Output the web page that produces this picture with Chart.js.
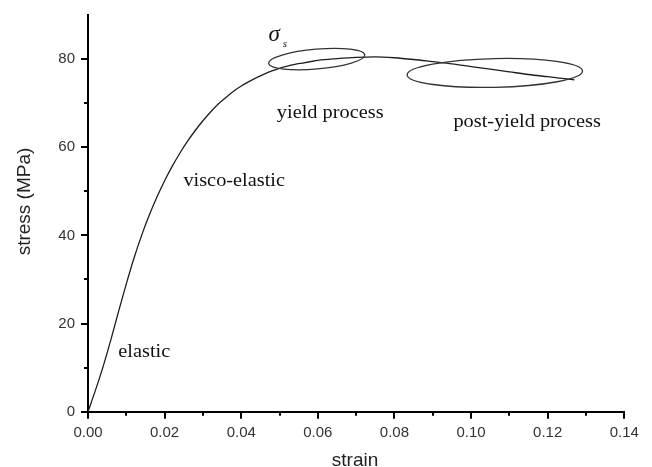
<!DOCTYPE html>
<html><head><meta charset="utf-8">
<script src="https://cdn.jsdelivr.net/npm/chart.js@4/dist/chart.umd.min.js"></script>
<style>html,body{margin:0;padding:0;background:#fff;}#wrap{width:652px;height:467px;position:relative;}</style>
</head><body><div id="wrap"><canvas id="c" width="652" height="467"></canvas></div>
<script>
// ---- data ----
const strain = [0, 0.002, 0.004, 0.006, 0.008, 0.010, 0.012, 0.014, 0.016, 0.018, 0.020, 0.022, 0.024, 0.026, 0.028, 0.030, 0.032, 0.034, 0.036, 0.038, 0.040, 0.042, 0.044, 0.046, 0.048, 0.050, 0.052, 0.054, 0.056, 0.058, 0.060, 0.065, 0.070, 0.075, 0.080, 0.085, 0.090, 0.095, 0.100, 0.105, 0.110, 0.115, 0.120, 0.125, 0.127];
const stress = [0, 5.0, 10.4, 16.4, 22.8, 29.0, 34.8, 40.0, 44.6, 48.7, 52.4, 55.7, 58.7, 61.4, 63.8, 66.0, 68.0, 69.8, 71.3, 72.7, 73.9, 74.9, 75.8, 76.6, 77.3, 77.9, 78.4, 78.8, 79.1, 79.4, 79.7, 80.1, 80.4, 80.5, 80.3, 79.9, 79.4, 78.9, 78.3, 77.7, 77.1, 76.5, 76.0, 75.5, 75.3];
const xTickValues = [0, 0.02, 0.04, 0.06, 0.08, 0.10, 0.12, 0.14];
const yTickValues = [0, 20, 40, 60, 80];
const xMinorTicks = [0.01, 0.03, 0.05, 0.07, 0.09, 0.11, 0.13];
const yMinorTicks = [10, 30, 50, 70];
const regionLabels = ['elastic', 'visco-elastic', 'yield process', 'post-yield process'];
const xTitle = 'strain';
const yTitle = 'stress (MPa)';

// ---- annotation placement (data coordinates) ----
const labelAnchors = [[0.0079, 12.4], [0.0249, 51.2], [0.0493, 66.7], [0.0954, 64.6]];
const sigmaAnchor = [0.0471, 84.2];
const ellipses = [
  {cx: 0.0597, cy: 80.0, rx: 0.0126, ry: 2.25, rot: -0.087},
  {cx: 0.1062, cy: 76.85, rx: 0.0229, ry: 3.26, rot: -0.022}
];

const isMajorX = v => xTickValues.some(t => Math.abs(t - v) < 1e-6);
const isMajorY = v => yTickValues.some(t => Math.abs(t - v) < 1e-6);

const overlay = {
  id: 'overlay',
  afterDatasetsDraw(chart) {
    const {ctx, scales: {x, y}} = chart;
    ctx.save();
    // minor ticks
    ctx.strokeStyle = '#000'; ctx.lineWidth = 2;
    xMinorTicks.forEach(v => { const p = Math.round(x.getPixelForValue(v)); ctx.beginPath(); ctx.moveTo(p, y.bottom); ctx.lineTo(p, y.bottom + 4); ctx.stroke(); });
    yMinorTicks.forEach(v => { const p = Math.round(y.getPixelForValue(v)); ctx.beginPath(); ctx.moveTo(x.left, p); ctx.lineTo(x.left - 4, p); ctx.stroke(); });
    // ellipses
    ctx.strokeStyle = '#333'; ctx.lineWidth = 1.3;
    ellipses.forEach(e => {
      const cx = x.getPixelForValue(e.cx), cy = y.getPixelForValue(e.cy);
      const rx = x.getPixelForValue(e.cx + e.rx) - cx, ry = cy - y.getPixelForValue(e.cy + e.ry);
      ctx.beginPath(); ctx.ellipse(cx, cy, rx, ry, e.rot, 0, Math.PI * 2); ctx.stroke();
    });
    // region labels (serif)
    ctx.fillStyle = '#111'; ctx.textBaseline = 'alphabetic'; ctx.textAlign = 'left';
    ctx.font = '18px "Liberation Serif", "Times New Roman", serif';
    regionLabels.forEach((t, i) => {
      const px = x.getPixelForValue(labelAnchors[i][0]), py = y.getPixelForValue(labelAnchors[i][1]);
      ctx.save(); ctx.translate(px, py); ctx.scale(1.13, 1); ctx.fillText(t, 0, 0); ctx.restore();
    });
    // sigma_s
    const sx = x.getPixelForValue(sigmaAnchor[0]), sy = y.getPixelForValue(sigmaAnchor[1]);
    ctx.font = 'italic 23px "Liberation Serif", "Times New Roman", serif';
    ctx.fillText('σ', sx, sy);
    ctx.font = 'italic 11px "Liberation Serif", "Times New Roman", serif';
    ctx.fillText('s', sx + ctx.measureText('σ').width + 9, sy + 6);
    // axis titles
    ctx.fillStyle = '#222';
    ctx.font = '19px "Liberation Sans", Arial, sans-serif';
    ctx.textAlign = 'center'; ctx.textBaseline = 'alphabetic';
    ctx.fillText(xTitle, 355, 466);
    ctx.save(); ctx.translate(25, 201.5); ctx.rotate(-Math.PI / 2);
    ctx.textBaseline = 'middle'; ctx.fillText(yTitle, 0, 0); ctx.restore();
    ctx.restore();
  }
};

new Chart(document.getElementById('c'), {
  type: 'line',
  data: {
    datasets: [{
      data: strain.map((s, i) => ({x: s, y: stress[i]})),
      borderColor: '#1e1e1e', borderWidth: 1.3, pointRadius: 0,
      cubicInterpolationMode: 'monotone', fill: false
    }]
  },
  options: {
    responsive: false, animation: false,
    layout: {padding: {top: 11, right: 27.7, left: 0, bottom: 0}},
    plugins: {legend: {display: false}, tooltip: {enabled: false}},
    scales: {
      x: {
        type: 'linear', min: 0, max: 0.14,
        afterFit: s => { s.height = 55.3; },
        border: {display: true, color: '#000', width: 2},
        grid: {drawOnChartArea: false, drawTicks: true, tickLength: 7, lineWidth: 2,
          color: c => (c.tick && isMajorX(c.tick.value)) ? '#000' : 'rgba(0,0,0,0)'},
        ticks: {stepSize: 0.01, autoSkip: false, maxRotation: 0, padding: 5, color: '#333',
          font: {family: '"Liberation Sans", Arial, sans-serif', size: 15},
          callback: v => isMajorX(v) ? v.toFixed(2) : ''},
        title: {display: false}
      },
      y: {
        type: 'linear', min: 0, max: 90,
        afterFit: s => { s.width = 88; },
        border: {display: true, color: '#000', width: 2},
        grid: {drawOnChartArea: false, drawTicks: true, tickLength: 7, lineWidth: 2,
          color: c => (c.tick && isMajorY(c.tick.value)) ? '#000' : 'rgba(0,0,0,0)'},
        ticks: {stepSize: 10, autoSkip: false, padding: 6, color: '#333',
          font: {family: '"Liberation Sans", Arial, sans-serif', size: 15},
          callback: v => isMajorY(v) ? String(v) : ''},
        title: {display: false}
      }
    }
  },
  plugins: [overlay]
});
</script></body></html>
